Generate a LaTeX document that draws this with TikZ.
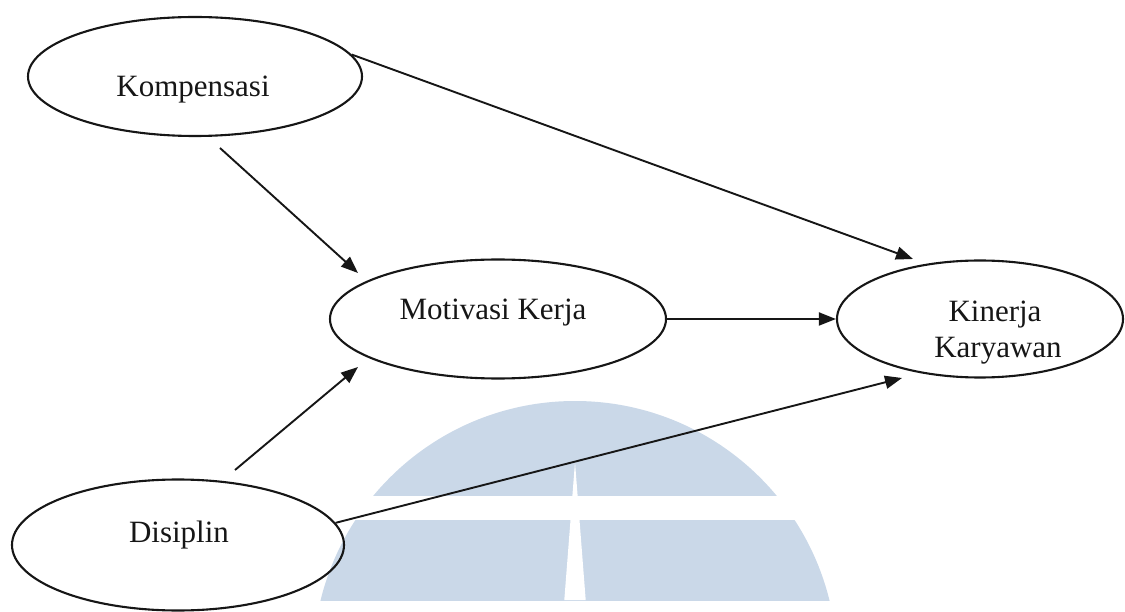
\documentclass[tikz,border=0pt]{standalone}
\usepackage{fontspec}
\setmainfont{Liberation Serif}
\usetikzlibrary{arrows.meta,shapes.geometric}

\definecolor{wmblue}{RGB}{202,216,232}
\definecolor{ink}{RGB}{22,22,22}

\tikzset{
  construct/.style={ellipse, draw=ink, line width=2.1pt, inner sep=0pt},
  lbl/.style={anchor=base, inner sep=0pt, text=ink,
              font=\fontsize{31}{36}\selectfont},
  path arrow/.style={draw=ink, line width=1.9pt,
              -{Triangle[length=17pt, width=13pt]}},
}

\begin{document}
\begin{tikzpicture}[x=1pt, y=-1pt]
  \useasboundingbox (0,0) rectangle (1125,612);

  % background emblem: half disc split by a band and a tapering slit
  \begin{scope}
    \clip (0,401) rectangle (1125,600);
    \fill[wmblue] (575,663) circle[radius=262];
  \end{scope}
  \fill[white] (280,496) rectangle (870,520);
  \fill[white] (575,462) -- (564.3,600) -- (585.7,600) -- cycle;

  % constructs
  \node[construct, minimum width=334pt, minimum height=119pt] (komp)  at (195,76.5) {};
  \node[construct, minimum width=336pt, minimum height=119pt] (motiv) at (498,319) {};
  \node[construct, minimum width=286pt, minimum height=117pt] (kin)   at (980,319) {};
  \node[construct, minimum width=332pt, minimum height=131pt] (disp)  at (178,545) {};

  % labels
  \node[lbl] (kompT)  at (193,97)  {Kompensasi};
  \node[lbl] (motivT) at (493,320) {Motivasi Kerja};
  \node[lbl] (kinT)   at (995,322) {Kinerja};
  \node[lbl] (kinT2)  at (998,358) {Karyawan};
  \node[lbl] (dispT)  at (179,542) {Disiplin};

  % free ends of the paths
  \coordinate (kmS) at (220,148);
  \coordinate (kmE) at (358,273);
  \coordinate (kkE) at (913,259);
  \coordinate (dmS) at (235,470);
  \coordinate (dmE) at (358,367);
  \coordinate (dkE) at (902,378);

  % paths
  \draw[path arrow] (kmS) -- (kmE);
  \draw[path arrow] (komp.8.7) -- (kkE);
  \draw[path arrow] (motiv.east) -- (kin.west);
  \draw[path arrow] (dmS) -- (dmE);
  \draw[path arrow] (disp.8) -- (dkE);
\end{tikzpicture}
\end{document}
